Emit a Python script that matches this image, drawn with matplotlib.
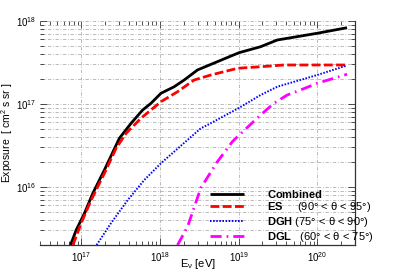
import numpy as np
import matplotlib
matplotlib.use("Agg")
import matplotlib.pyplot as plt
from matplotlib.ticker import LogLocator, NullFormatter

plt.rcParams['font.family'] = ['Liberation Sans', 'DejaVu Sans']
plt.rcParams['mathtext.fontset'] = 'custom'
plt.rcParams['mathtext.rm'] = 'Liberation Sans'
plt.rcParams['mathtext.bf'] = 'Liberation Sans:bold'
plt.rcParams['mathtext.it'] = 'Liberation Sans:italic'

# ---- data (log10 of energy [eV] and log10 of exposure [cm^2 s sr]) ----
comb_logE = [16.865, 16.937, 17.042, 17.148, 17.295, 17.485, 17.633, 17.781, 17.886,
             18.013, 18.181, 18.308, 18.477, 18.730, 19.004, 19.278, 19.490, 19.996, 20.376]
comb_logX = [15.301, 15.482, 15.683, 15.924, 16.205, 16.587, 16.767, 16.928, 17.008,
             17.129, 17.208, 17.289, 17.410, 17.510, 17.618, 17.690, 17.771, 17.852, 17.919]

es_logE = [16.895, 17.000, 17.127, 17.295, 17.443, 17.570, 17.759, 17.886, 18.013,
           18.224, 18.434, 18.646, 18.984, 19.278, 19.573, 20.376]
es_logX = [15.301, 15.563, 15.843, 16.165, 16.466, 16.647, 16.828, 16.928, 17.028,
           17.148, 17.289, 17.349, 17.430, 17.449, 17.470, 17.470]

dgh_logE = [17.196, 17.380, 17.591, 17.801, 18.013, 18.519, 18.604, 19.013, 19.278,
            19.490, 19.996, 20.376]
dgh_logX = [15.301, 15.566, 15.843, 16.084, 16.286, 16.707, 16.747, 16.958, 17.108,
            17.208, 17.349, 17.464]

dgl_logE = [18.224, 18.351, 18.519, 18.730, 18.920, 18.984, 19.278, 19.447, 19.616,
            19.785, 19.996, 20.376]
dgl_logX = [15.301, 15.522, 15.988, 16.305, 16.546, 16.606, 16.867, 17.008, 17.108,
            17.169, 17.249, 17.358]

labels = [r"$\mathbf{Combined}$",
          r"$\mathbf{ES}$     (90° < θ < 95°)",
          r"$\mathbf{DGH}$ (75° < θ < 90°)",
          r"$\mathbf{DGL}$   (60° < θ < 75°)"]

xlim = (3e16, 3e20)
ylim = (2e15, 1e18)

fig = plt.figure(figsize=(3.95, 2.75), dpi=100)
ax = fig.add_axes([40/395, 1-245/275, 315/395, 224/275])

ax.plot(np.power(10.0, comb_logE), np.power(10.0, comb_logX), color='black', lw=2.0,
        solid_capstyle='butt', label=labels[0])
ax.plot(np.power(10.0, es_logE), np.power(10.0, es_logX), color='#ff0000', lw=2.0,
        dashes=(3.2, 1.2), label=labels[1])
ax.plot(np.power(10.0, dgh_logE), np.power(10.0, dgh_logX), color='#0000ff', lw=1.4,
        dashes=(0.8, 0.8), label=labels[2])
ax.plot(np.power(10.0, dgl_logE), np.power(10.0, dgl_logX), color='#ff00ff', lw=2.0,
        dashes=(4.0, 1.8, 0.6, 1.8), label=labels[3])

ax.set_xscale('log')
ax.set_yscale('log')
ax.set_xlim(*xlim)
ax.set_ylim(*ylim)

ax.xaxis.set_major_locator(LogLocator(base=10, numticks=10))
ax.xaxis.set_minor_locator(LogLocator(base=10, subs=np.arange(2, 10), numticks=20))
ax.yaxis.set_major_locator(LogLocator(base=10, numticks=10))
ax.yaxis.set_minor_locator(LogLocator(base=10, subs=np.arange(2, 10), numticks=20))
ax.xaxis.set_minor_formatter(NullFormatter())
ax.yaxis.set_minor_formatter(NullFormatter())

ax.tick_params(which='both', direction='in', top=True, right=True, labelsize=7,
               width=0.6, color='#333333')
ax.tick_params(which='major', length=5)
ax.tick_params(which='minor', length=3)
ax.tick_params(axis='x', pad=4)
ax.tick_params(axis='y', pad=3)

ax.grid(True, which='major', axis='both', color='#b0b0b0', lw=0.6, ls=(0, (4, 2, 1, 2)))
ax.grid(True, which='minor', axis='y', color='#b0b0b0', lw=0.6, ls=(0, (4, 2, 1, 2)))
ax.set_axisbelow(True)

for s in ['left', 'top']:
    ax.spines[s].set_visible(False)
for s in ['bottom', 'right']:
    ax.spines[s].set_linewidth(0.9)
    ax.spines[s].set_color('#333333')

ax.set_xlabel(r"E$_{\mathrm{ν}}$ [eV]", fontsize=8)
ax.xaxis.set_label_coords(0.5, -(257 - 245) / 224)
ax.set_ylabel(r"Exposure  [ cm$^{2}$ s sr ]", fontsize=7.5)
ax.yaxis.set_label_coords(-(40 - 15) / 315, 0.5)

leg = ax.legend(loc='upper left', bbox_to_anchor=((210-40)/315, (245-187.5)/224),
                frameon=False, fontsize=8, handlelength=3.1, handletextpad=2.0,
                labelspacing=0.06, borderpad=0, borderaxespad=0)

fig.savefig('out.png', dpi=100)
